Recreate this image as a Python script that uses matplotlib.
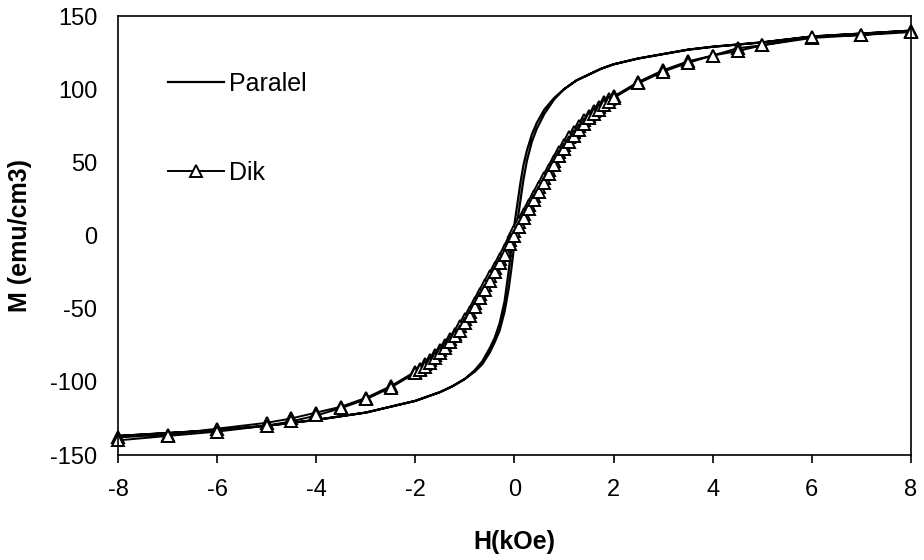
import matplotlib
matplotlib.use('Agg')
import matplotlib.pyplot as plt

plt.rcParams['font.family'] = ['Liberation Sans', 'DejaVu Sans']
plt.rcParams['axes.unicode_minus'] = False

# Paralel: descending branch (+8 -> -8) then ascending branch (-8 -> +8)
h_par_down = [8, 7, 6, 5, 4, 3.5, 3, 2.5, 2, 1.75, 1.5, 1.25, 1.0, 0.8, 0.6,
              0.45, 0.35, 0.25, 0.18, 0.12, 0.06, 0.0, -0.06, -0.12, -0.2,
              -0.3, -0.4, -0.5, -0.65, -0.8, -1.0, -1.25, -1.5, -2, -2.5, -3,
              -4, -5, -6, -7, -8]
m_par_down = [140, 138, 136, 132, 129, 127, 124, 121, 117, 114, 110, 106, 100,
              94, 86, 77, 69, 58, 48, 36, 22, 8, -8, -25, -45, -60, -70, -77,
              -86, -92, -98, -103, -107, -113, -117, -121, -126, -130, -133,
              -135, -137]
h_par_up = [-8, -7, -6, -5, -4, -3, -2.5, -2, -1.5, -1.25, -1.0, -0.8, -0.65,
            -0.5, -0.4, -0.3, -0.2, -0.12, -0.06, 0.0, 0.06, 0.12, 0.18, 0.25,
            0.35, 0.45, 0.6, 0.8, 1.0, 1.25, 1.5, 1.75, 2, 2.5, 3, 3.5, 4, 5,
            6, 7, 8]
m_par_up = [-137, -135, -133, -130, -126, -121, -117, -113, -107, -103, -98,
            -93, -88, -80, -73, -65, -52, -37, -22, -5, 10, 24, 38, 51, 64, 73,
            83, 93, 100, 106, 110, 114, 117, 121, 124, 127, 129, 132, 136, 138,
            140]

# Dik: descending branch then ascending branch
h_dik_down = [8, 7, 6, 5, 4.5, 4, 3.5, 3, 2.5,
              2.0, 1.9, 1.8, 1.7, 1.6, 1.5, 1.4, 1.3, 1.2, 1.1, 1.0,
              0.9, 0.8, 0.7, 0.6, 0.5, 0.4, 0.3, 0.2, 0.1, 0.0,
              -0.1, -0.2, -0.3, -0.4, -0.5, -0.6, -0.7, -0.8, -0.9, -1.0,
              -1.1, -1.2, -1.3, -1.4, -1.5, -1.6, -1.7, -1.8, -1.9, -2.0,
              -2.5, -3, -3.5, -4, -4.5, -5, -6, -7, -8]
m_dik_down = [140, 137, 135, 130, 128, 123, 119, 113, 105,
              95, 93, 91, 88, 85, 82, 79, 75, 71, 67, 62,
              57, 51, 45, 39, 33, 27, 21, 15, 9, 3,
              -3, -10, -16, -22, -28, -34, -40, -46, -52, -57,
              -62, -67, -71, -75, -78, -82, -85, -88, -91, -93,
              -103, -111, -117, -121, -125, -128, -132, -136, -138]
h_dik_up = [-8, -7, -6, -5, -4.5, -4, -3.5, -3, -2.5,
            -2.0, -1.9, -1.8, -1.7, -1.6, -1.5, -1.4, -1.3, -1.2, -1.1, -1.0,
            -0.9, -0.8, -0.7, -0.6, -0.5, -0.4, -0.3, -0.2, -0.1, 0.0,
            0.1, 0.2, 0.3, 0.4, 0.5, 0.6, 0.7, 0.8, 0.9, 1.0,
            1.1, 1.2, 1.3, 1.4, 1.5, 1.6, 1.7, 1.8, 1.9, 2.0,
            2.5, 3, 3.5, 4, 4.5, 5, 6, 7, 8]
m_dik_up = [-140, -137, -134, -130, -127, -123, -118, -112, -104,
            -94, -92, -90, -87, -84, -80, -77, -73, -69, -65, -60,
            -55, -49, -43, -37, -31, -25, -19, -13, -6, 0,
            6, 12, 18, 24, 30, 36, 42, 48, 54, 59,
            64, 68, 72, 76, 80, 83, 86, 89, 91, 94,
            104, 112, 118, 123, 126, 130, 136, 137, 139]

fig = plt.figure(figsize=(9.24, 5.6), dpi=100)
ax = fig.add_axes([0.1277, 0.1875, 0.8582, 0.7839])

h_par = h_par_down + h_par_up
m_par = m_par_down + m_par_up
h_dik = h_dik_down + h_dik_up
m_dik = m_dik_down + m_dik_up

ax.plot(h_par, m_par, color='black', lw=1.6, label='Paralel', clip_on=False)
ax.plot(h_dik, m_dik, color='black', lw=1.4, marker='^', markersize=9,
        markerfacecolor='white', markeredgecolor='black', markeredgewidth=1.4,
        label='Dik', clip_on=False)

ax.set_xlim(-8, 8)
ax.set_ylim(-150, 150)
ax.set_xticks(range(-8, 9, 2))
ax.set_yticks(range(-150, 151, 50))
ax.tick_params(axis='x', direction='out', length=6, width=1.2, labelsize=17, pad=11)
ax.tick_params(axis='y', length=0, labelsize=17, pad=15)
for s in ax.spines.values():
    s.set_linewidth(1.2)

ax.set_xlabel('H(kOe)', fontsize=18, fontweight='bold', labelpad=21)
ax.set_ylabel('M (emu/cm3)', fontsize=18, fontweight='bold', labelpad=13)

ax.legend(loc='upper left', bbox_to_anchor=(0.05, 0.895), frameon=False,
          fontsize=18, handlelength=2.25, handletextpad=0.2,
          labelspacing=2.58, borderaxespad=0)

fig.savefig('out.png', dpi=100)
